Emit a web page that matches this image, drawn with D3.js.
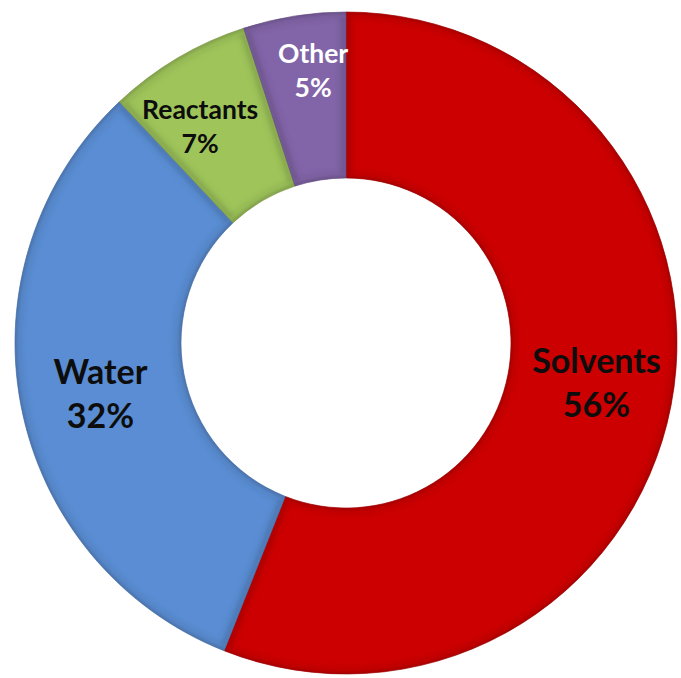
<!DOCTYPE html>
<html>
<head>
<meta charset="utf-8">
<script src="https://cdn.jsdelivr.net/npm/d3@7"></script>
<style>
  html, body { margin: 0; padding: 0; background: #ffffff; }
  svg { display: block; }
</style>
</head>
<body>
<svg id="chart" width="681" height="678"></svg>
<script>
// Share of total waste by source
const categories = ["Solvents", "Water", "Reactants", "Other"];
const values = [56, 32, 7, 5];
const valueLabels = ["56%", "32%", "7%", "5%"];
const colors = ["#cc0000", "#5a8dd3", "#9ec45a", "#8264a8"];
const labelColors = ["#0d0d0d", "#0d0d0d", "#0d0d0d", "#ffffff"];

const width = 681, height = 678;
const cx = 346, cy = 343;
const outerR = 331, innerR = 165;

// Label placement: anchor radius, nudge and font size per slice
const labelStyle = {
  Solvents:  { r: 255, dx: 0,   dy: -8,  size: 34 },
  Water:     { r: 248, dx: -2,  dy: 4,   size: 34 },
  Reactants: { r: 261, dx: -13, dy: 8,   size: 26.5 },
  Other:     { r: 274, dx: 10,  dy: -2,  size: 26.5 }
};

const svg = d3.select("#chart");
const defs = svg.append("defs");

const blur = defs.append("filter").attr("id", "edgeBlur")
  .attr("x", "-10%").attr("y", "-10%").attr("width", "120%").attr("height", "120%");
blur.append("feGaussianBlur").attr("stdDeviation", 3);

const soft = defs.append("filter").attr("id", "softBlur")
  .attr("x", "-10%").attr("y", "-10%").attr("width", "120%").attr("height", "120%");
soft.append("feGaussianBlur").attr("stdDeviation", 1.5);

const data = categories.map((c, i) => ({ name: c, value: values[i], label: valueLabels[i], color: colors[i], textColor: labelColors[i] }));

const pie = d3.pie().value(d => d.value).sort(null);
const arc = d3.arc().innerRadius(innerR).outerRadius(outerR);
const arcs = pie(data);

const g = svg.append("g").attr("transform", `translate(${cx},${cy})`);

arcs.forEach((a, i) => {
  defs.append("clipPath").attr("id", "clip" + i)
    .append("path").attr("d", arc(a));
});

const slice = g.selectAll("g.slice").data(arcs).join("g").attr("class", "slice");

// base fill
slice.append("path")
  .attr("d", arc)
  .attr("fill", d => d.data.color);

// soft dark bevel along the slice edges
slice.append("g")
  .attr("clip-path", (d, i) => `url(#clip${i})`)
  .append("path")
  .attr("d", arc)
  .attr("fill", "none")
  .attr("stroke", d => d3.color(d.data.color).darker(1.2))
  .attr("stroke-width", 9)
  .attr("stroke-opacity", 0.55)
  .attr("filter", "url(#edgeBlur)");

// thin light highlight just inside the edges
slice.append("g")
  .attr("clip-path", (d, i) => `url(#clip${i})`)
  .append("path")
  .attr("d", d3.arc().innerRadius(innerR + 4).outerRadius(outerR - 4)
    .startAngle(d => d.startAngle).endAngle(d => d.endAngle))
  .attr("fill", "none")
  .attr("stroke", d => d3.color(d.data.color).brighter(0.6))
  .attr("stroke-width", 1.5)
  .attr("stroke-opacity", 0.35)
  .attr("filter", "url(#softBlur)");

// crisp dark outline
slice.append("path")
  .attr("d", arc)
  .attr("fill", "none")
  .attr("stroke", d => d3.color(d.data.color).darker(0.8))
  .attr("stroke-width", 0.8)
  .attr("stroke-opacity", 0.8);

// labels: two lines (name, percentage) centred on the anchor point
const labels = g.selectAll("text.lbl").data(arcs).join("text")
  .attr("class", "lbl")
  .attr("text-anchor", "middle")
  .attr("font-family", "Lato, 'Open Sans', sans-serif")
  .attr("font-weight", "bold")
  .attr("fill", d => d.data.textColor)
  .attr("font-size", d => labelStyle[d.data.name].size)
  .attr("transform", d => {
    const s = labelStyle[d.data.name];
    const [x, y] = d3.arc().innerRadius(s.r).outerRadius(s.r).centroid(d);
    return `translate(${x + s.dx},${y + s.dy})`;
  });

labels.append("tspan")
  .attr("x", 0)
  .attr("dy", d => -labelStyle[d.data.name].size * 0.29)
  .text(d => d.data.name);
labels.append("tspan")
  .attr("x", 0)
  .attr("dy", d => labelStyle[d.data.name].size * 1.3)
  .text(d => d.data.label);
</script>
</body>
</html>
